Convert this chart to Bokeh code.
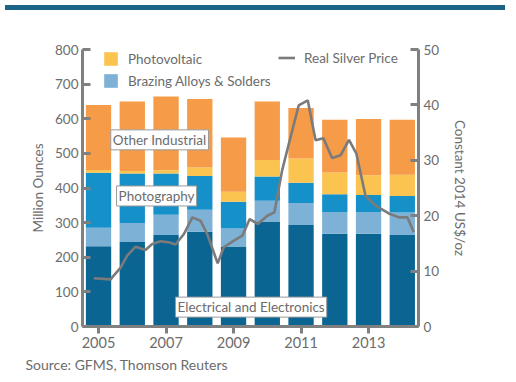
from bokeh.plotting import figure
from bokeh.models import Range1d, LinearAxis, FixedTicker, Legend, LegendItem, Label, Div, ColumnDataSource, Title
from bokeh.layouts import column
from bokeh.embed import file_html
from bokeh.resources import INLINE

# ---- data (million ounces) ----
years = [2005, 2006, 2007, 2008, 2009, 2010, 2011, 2012, 2013, 2014]
electrical = [232, 244, 264, 274, 231, 303, 293, 268, 268, 264]
brazing = [53, 55, 59, 63, 52, 60, 64, 63, 63, 65]
photography = [159, 143, 119, 98, 77, 70, 58, 51, 49, 48]
photovoltaic = [8, 7, 9, 24, 29, 48, 70, 63, 57, 61]
other_industrial = [188, 201, 213, 198, 157, 169, 146, 152, 162, 159]

# ---- real silver price (constant 2014 US$/oz) ----
price_t = [2004.86, 2005.36, 2005.45, 2005.65, 2005.85, 2006.10, 2006.39, 2006.59, 2006.84,
           2007.08, 2007.28, 2007.53, 2007.78, 2008.02, 2008.22, 2008.53, 2008.71, 2009.01,
           2009.26, 2009.48, 2009.72, 2010.00, 2010.21, 2010.44, 2010.64, 2010.93, 2011.20,
           2011.43, 2011.66, 2011.92, 2012.17, 2012.42, 2012.64, 2012.91, 2013.21, 2013.60,
           2013.90, 2014.15, 2014.34]
price = [8.7, 8.5, 9.2, 10.6, 12.8, 14.4, 13.8, 14.9, 15.4,
         15.2, 14.8, 16.7, 19.7, 19.1, 16.7, 11.4, 14.3, 15.5,
         16.4, 19.4, 18.5, 20.0, 20.6, 28.2, 33.0, 39.9, 40.8,
         33.6, 34.0, 30.4, 30.9, 33.7, 31.2, 23.6, 21.8, 20.4,
         19.7, 19.7, 17.0]

left_ticks = [0, 100, 200, 300, 400, 500, 600, 700, 800]
right_ticks = [0, 10, 20, 30, 40, 50]
x_ticks = [2005, 2007, 2009, 2011, 2013]

series = ["electrical", "brazing", "photography", "photovoltaic", "other"]
colors = ["#0b6593", "#7db1d6", "#1690c9", "#fbc451", "#f69b47"]

FONT = "Lato"
TXT = "#6c6c6c"
AX = "#808080"

src = ColumnDataSource(dict(x=years, electrical=electrical, brazing=brazing,
                            photography=photography, photovoltaic=photovoltaic,
                            other=other_industrial))

p = figure(width=500, height=361, output_backend="svg", toolbar_location=None,
           x_range=Range1d(2004.525, 2014.48), y_range=Range1d(0, 800),
           min_border_left=82, min_border_right=82, min_border_top=34, min_border_bottom=50)
p.outline_line_color = None
p.xgrid.visible = False
p.ygrid.visible = False
p.background_fill_color = "white"

rs = p.vbar_stack(series, x="x", width=0.75, source=src, color=colors, line_color=None)

p.extra_y_ranges = {"price": Range1d(0, 50)}
ln = p.line(price_t, price, y_range_name="price", line_color="#7b7b7b", line_width=2.6)

def style_axis(ax, size="13.5px"):
    ax.axis_line_color = AX
    ax.axis_line_width = 3
    ax.major_tick_line_color = AX
    ax.major_tick_line_width = 3
    ax.minor_tick_line_color = None
    ax.major_label_text_font = FONT
    ax.major_label_text_font_size = size
    ax.major_label_text_color = TXT
    ax.axis_label_text_font = FONT
    ax.axis_label_text_font_size = "13.5px"
    ax.axis_label_text_font_style = "normal"
    ax.axis_label_text_color = TXT

ya = p.yaxis[0]
ya.ticker = FixedTicker(ticks=left_ticks)
ya.axis_label = "Million Ounces"
ya.major_tick_in = 8
ya.major_tick_out = 0
ya.major_label_standoff = 4
ya.axis_label_standoff = 6
style_axis(ya)

xa = p.xaxis[0]
xa.ticker = FixedTicker(ticks=x_ticks)
xa.major_tick_in = 0
xa.major_tick_out = 7
xa.major_label_standoff = 3
style_axis(xa, "14.5px")

ra = LinearAxis(y_range_name="price", ticker=FixedTicker(ticks=right_ticks),
                axis_label="Constant 2014 US$/oz")
ra.major_tick_in = 8
ra.major_tick_out = 0
ra.major_label_standoff = 5
ra.axis_label_standoff = 10
style_axis(ra)
p.add_layout(ra, "right")

leg1 = Legend(items=[LegendItem(label="Photovoltaic", renderers=[rs[3]]),
                     LegendItem(label="Brazing Alloys & Solders", renderers=[rs[1]])],
              location=(20, 237), orientation="vertical")
leg2 = Legend(items=[LegendItem(label="Real Silver Price", renderers=[ln])],
              location=(196, 260), orientation="vertical")
for lg in (leg1, leg2):
    lg.glyph_width = 17
    lg.glyph_height = 17
    lg.label_height = 17
    lg.label_standoff = 9
    lg.spacing = 5
    lg.padding = 0
    lg.margin = 0
    lg.border_line_color = None
    lg.background_fill_alpha = 0
    lg.label_text_font = FONT
    lg.label_text_font_size = "13.5px"
    lg.label_text_color = TXT
    lg.label_text_baseline = "middle"
    p.add_layout(lg, "center")

def box_label(x, y, text):
    lab = Label(x=x, y=y, text=text, text_align="center", text_baseline="middle",
                text_font=FONT, text_font_size="13.5px", text_color=TXT,
                background_fill_color="white", border_line_color="#9a9a9a",
                border_line_width=1, padding=2)
    p.add_layout(lab)

box_label(2006.81, 539, "Other Industrial")
box_label(2006.72, 377, "Photography")
box_label(2009.52, 56, "Electrical and Electronics")

src_title = Title(text="Source: GFMS, Thomson Reuters", align="left", offset=-57,
                  text_font=FONT, text_font_size="14px", text_color=TXT,
                  text_font_style="normal", standoff=6)
p.add_layout(src_title, "below")

band = Div(text="", width=500, height=5, styles={"background-color": "#1b6387"})

layout = column(band, p, spacing=0)
open("out.html", "w").write(file_html(layout, INLINE))
